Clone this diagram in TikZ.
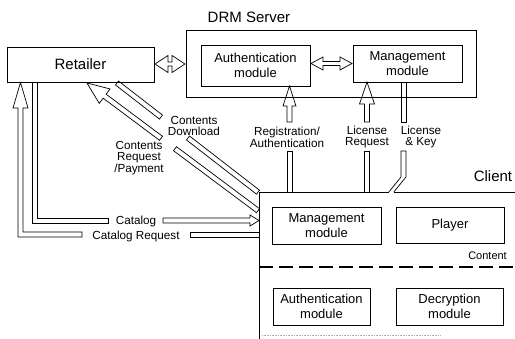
\documentclass[tikz,border=0pt]{standalone}
\usepackage{fontspec}
\setmainfont{Liberation Sans}
\usetikzlibrary{calc}
% hollow block arrow: tail, tip, shaft half width, head half width, head length
\newcommand\harrow[5]{%
  \coordinate (hb) at ($(#2)!#5!(#1)$);
  \draw[arrowline] ($(#1)!#3!90:(#2)$) -- ($(hb)!#3!90:(#2)$) -- ($(hb)!#4!90:(#2)$) -- (#2)
    -- ($(hb)!#4!-90:(#2)$) -- ($(hb)!#3!-90:(#2)$) -- ($(#1)!#3!-90:(#2)$) -- cycle;}
% hollow shaft: from, to, half width
\newcommand\hshaft[3]{%
  \draw[arrowline] ($(#1)!#3!90:(#2)$) -- ($(#2)!#3!-90:(#1)$) -- ($(#2)!#3!90:(#1)$)
    -- ($(#1)!#3!-90:(#2)$) -- cycle;}
% hollow double-headed arrow: tip a, tip b, shaft half width, head half width, head length
\newcommand\hdarrow[5]{%
  \coordinate (ha) at ($(#1)!#5!(#2)$);
  \coordinate (hb) at ($(#2)!#5!(#1)$);
  \draw[arrowline] (#1) -- ($(ha)!#4!90:(#2)$) -- ($(ha)!#3!90:(#2)$) -- ($(hb)!#3!90:(#2)$)
    -- ($(hb)!#4!90:(#2)$) -- (#2) -- ($(hb)!#4!-90:(#2)$) -- ($(hb)!#3!-90:(#2)$)
    -- ($(ha)!#3!-90:(#2)$) -- ($(ha)!#4!-90:(#2)$) -- cycle;}
\begin{document}
\begin{tikzpicture}[x=1pt,y=-1pt,
  box/.style={draw, line width=0.8pt, inner sep=0pt, align=center, font=\fontsize{13}{14.5}\selectfont},
  lbl/.style={inner sep=0pt, align=center, font=\fontsize{11.7}{10.5}\selectfont},
  title/.style={inner sep=0pt, font=\fontsize{15}{17}\selectfont},
  arrowline/.style={draw, line width=0.7pt, line join=miter},
  bound/.style={line width=0.9pt}]
\useasboundingbox (0,0) rectangle (515,339);

% ---- boxes
\node[box, font=\fontsize{15}{17}\selectfont, minimum width=147pt, minimum height=35pt] (retailer) at (80.5,64.5) {Retailer};
\node[draw, line width=0.8pt, inner sep=0pt, minimum width=290pt, minimum height=67pt] (drm) at (331,63.5) {};
\node[title] (drmlabel) at (249,17) {DRM Server};
\node[box, minimum width=109pt, minimum height=41pt] (sauth) at (255.5,65.5) {Authentication\\module};
\node[box, minimum width=109pt, minimum height=37pt] (smgmt) at (407.5,63.5) {Management\\module};

\node[title] (clientlabel) at (493,176) {Client};
\node[box, minimum width=109pt, minimum height=37pt] (cmgmt) at (326.5,225.5) {Management\\module};
\node[box, minimum width=108pt, minimum height=36pt] (player) at (450,225) {Player};
\node[inner sep=0pt, font=\fontsize{11}{12}\selectfont, anchor=east] (content) at (507,256) {Content};
\node[box, minimum width=97pt, minimum height=37pt] (cauth) at (321.5,306.5) {Authentication\\module};
\node[box, minimum width=107pt, minimum height=37pt] (decrypt) at (449.5,306.5) {Decryption\\module};

% ---- client boundary
\draw[bound] (259,339) -- (259,192) -- (388.8,192);
\draw[bound] (393.8,192) -- (515,192);
\draw[line width=1.1pt, dash pattern=on 14pt off 6pt] (259,267) -- (515,267);
\draw[gray!60, line width=0.6pt, densely dotted] (262,335) -- (440,335);

% ---- server internal arrows
\coordinate (rd-a) at (155,64);
\coordinate (rd-b) at (185,64);
\hdarrow{rd-a}{rd-b}{2pt}{8.5pt}{13pt}
\coordinate (am-a) at (311,63.5);
\coordinate (am-b) at (352,63.5);
\hdarrow{am-a}{am-b}{2pt}{6.5pt}{12pt}

% ---- labels on arrows
\node[lbl] (reglbl) at (287,137) {Registration/\\Authentication};
\node[lbl] (lreqlbl) at (367,137) {License\\Request};
\node[lbl] (lkeylbl) at (421,137) {License\\\& Key};
\node[lbl] (cdlbl) at (194,126) {Contents\\Download};
\node[lbl] (crplbl) at (139,158) {Contents\\Request\\/Payment};
\node[lbl] (catlbl) at (136,221) {Catalog};
\node[lbl] (catreqlbl) at (136,236) {Catalog Request};

% ---- Registration / Authentication
\coordinate (reg-tip) at (289.5,86);
\coordinate (reg-t) at (289.5,122);
\coordinate (reg-b1) at (289.5,151);
\coordinate (reg-b2) at (289.5,192);
\harrow{reg-t}{reg-tip}{2.5pt}{6.5pt}{20pt}
\hshaft{reg-b1}{reg-b2}{2.5pt}

% ---- License Request
\coordinate (lr-tip) at (367,82);
\coordinate (lr-t) at (367,122);
\coordinate (lr-b1) at (367,151);
\coordinate (lr-b2) at (367,192);
\harrow{lr-t}{lr-tip}{2.5pt}{7.5pt}{22pt}
\hshaft{lr-b1}{lr-b2}{2.5pt}

% ---- License & Key
\draw[arrowline] (401,82) -- (401,122) -- (406,122) -- (406,82);
\draw[arrowline] (388.8,192) -- (401,177) -- (401,151) -- (406,151) -- (406,177) -- (393.8,192);

% ---- Contents Request / Payment
\coordinate (crp-tip) at (87,83);
\coordinate (crp-a) at (161,138.3);
\coordinate (crp-b) at (175,148.7);
\coordinate (crp-c) at (258,210.7);
\harrow{crp-a}{crp-tip}{2.5pt}{9pt}{22pt}
\hshaft{crp-b}{crp-c}{2.5pt}

% ---- Contents Download
\coordinate (cd-a) at (117,83);
\coordinate (cd-b) at (161,117.1);
\coordinate (cd-c) at (188,138);
\coordinate (cd-d) at (258,192.2);
\hshaft{cd-a}{cd-b}{2.5pt}
\hshaft{cd-c}{cd-d}{2.5pt}

% ---- Catalog
\draw[arrowline] (32.5,82) -- (32.5,223) -- (108,223) -- (108,218) -- (37.5,218) -- (37.5,82);
\draw[arrowline] (163,218) -- (250,218) -- (250,215) -- (259,220.5) -- (250,226) -- (250,223) -- (163,223) -- cycle;

% ---- Catalog Request
\draw[arrowline] (259,232) -- (190,232) -- (190,237) -- (259,237);
\draw[arrowline] (82,232) -- (23,232) -- (23,108) -- (28,108) -- (20.5,82.5) -- (13,108) -- (18,108) -- (18,237) -- (82,237) -- cycle;
\end{tikzpicture}
\end{document}
